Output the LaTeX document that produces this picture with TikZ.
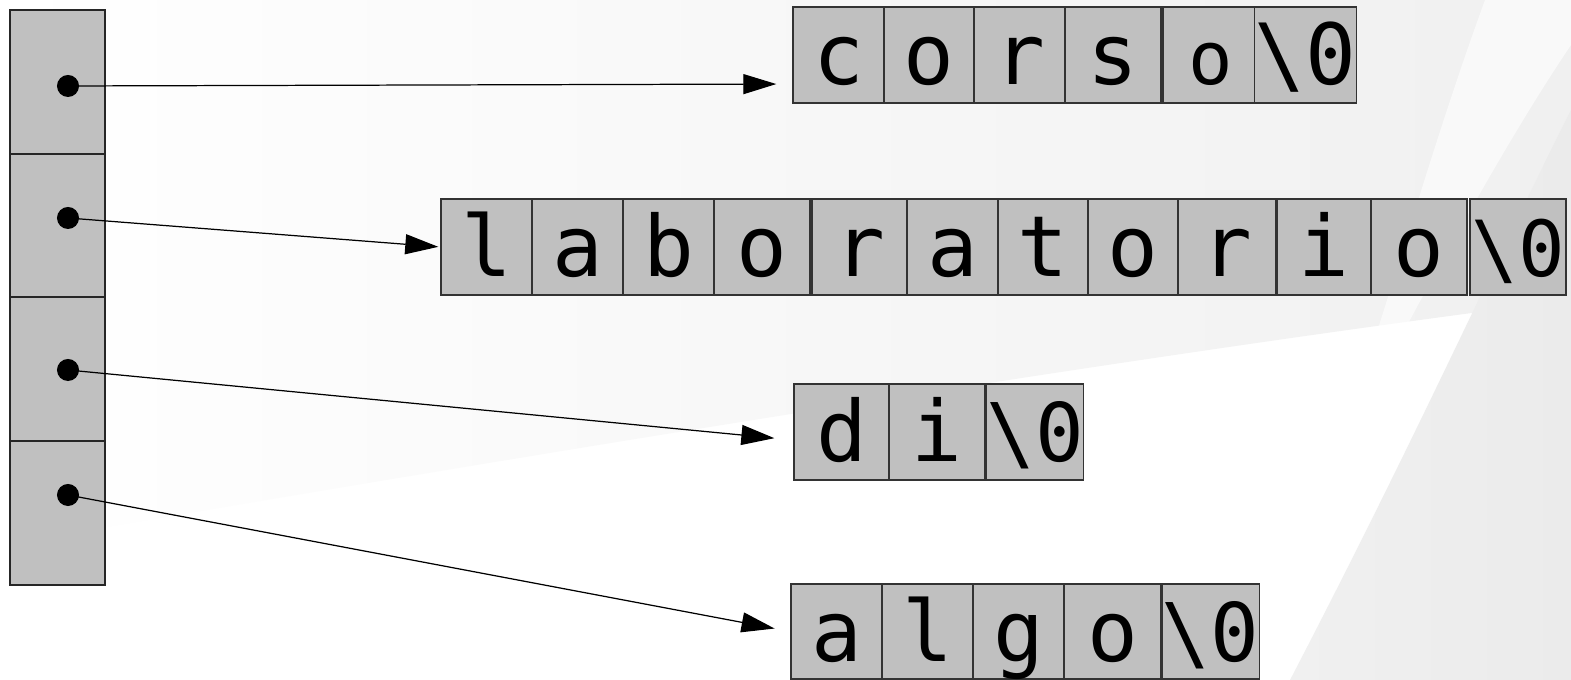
\documentclass[tikz,border=0pt]{standalone}
\usepackage{fontspec}
\setmonofont{DejaVu Sans Mono}
\usetikzlibrary{arrows.meta}

\definecolor{cellgray}{HTML}{C0C0C0}
\definecolor{bggray}{HTML}{F0F0F0}
\definecolor{bgdark}{HTML}{EBEBEB}

\tikzset{
    cell/.style={draw=black!80, line width=0.4pt, fill=cellgray, inner sep=0pt,
        text height=0.59cm, text depth=0pt},
    slot/.style={draw=black!85, line width=0.45pt, fill=cellgray, inner sep=0pt},
    dot/.style={circle, fill=black, inner sep=0pt, minimum size=0.22cm},
    ptr/.style={-{Triangle[length=0.33cm,width=0.2cm]}, line width=0.35pt},
}

\begin{document}
\begin{tikzpicture}[x=0.01cm,y=-0.01cm]
        \useasboundingbox (0,0) rectangle (1571,680);

        \fill[white] (0,0) rectangle (1571,680);
        \shade[left color=white, right color=bggray] (0,0) -- (1571,0) -- (1571,300) .. controls (1100,360) and (500,460) .. (0,545) -- cycle;
        \shade[left color=bggray, right color=bgdark] (1290,680) .. controls (1420,430) and (1500,250) .. (1571,110) -- (1571,680) -- cycle;
        \fill[white, opacity=0.6] (1571,0) -- (1485,0) .. controls (1430,150) and (1390,300) .. (1335,460) .. controls (1420,300) and (1500,150) .. (1571,45) -- cycle;

        \foreach \t/\b [count=\i] in {10/154,154/297,297/441,441/585}
            \node[slot, minimum width=0.95cm, minimum height={(\b-\t)*0.01cm}] (slot-\i) at (57.5,{(\t+\b)/2}) {};

        \foreach \y [count=\i] in {86,218,370,495}
            \node[dot] (p\i) at (68,\y) {};

        \foreach \l/\r/\c/\s [count=\i] in {793/884/c/24, 884/974/o/24, 974/1065/r/24, 1065/1161/s/24,
                1163/1258/o/21, 1258/1353/{\textbackslash0}/24}
            \node[cell, minimum width={(\r-\l)*0.01cm}, minimum height=0.96cm,
                font=\ttfamily\fontsize{\s}{\s}\selectfont] (corso-\i) at ({(\l+\r)/2},55) {\c};

        \foreach \l/\r/\c/\s [count=\i] in {441/532/l/24, 532/623/a/24, 623/714/b/24, 714/810/o/24,
                812/907/r/24, 907/998/a/24, 998/1088/t/24, 1088/1178/o/24, 1178/1276/r/24,
                1277/1371/i/24, 1371/1467/o/24, 1470/1566/{\textbackslash0}/22}
            \node[cell, minimum width={(\r-\l)*0.01cm}, minimum height=0.96cm,
                font=\ttfamily\fontsize{\s}{\s}\selectfont] (lab-\i) at ({(\l+\r)/2},247) {\c};

        \foreach \l/\r/\c/\s [count=\i] in {794/889/d/24, 889/985/i/24, 987/1083/{\textbackslash0}/23}
            \node[cell, minimum width={(\r-\l)*0.01cm}, minimum height=0.96cm,
                font=\ttfamily\fontsize{\s}{\s}\selectfont] (di-\i) at ({(\l+\r)/2},432) {\c};

        \foreach \l/\r/\c/\s [count=\i] in {791/882/a/24, 882/973/l/24, 973/1064/g/24, 1064/1161/o/24,
                1162/1259/{\textbackslash0}/23}
            \node[cell, minimum width={(\r-\l)*0.01cm}, minimum height=0.95cm,
                font=\ttfamily\fontsize{\s}{\s}\selectfont] (algo-\i) at ({(\l+\r)/2},631.5) {\c};

        \draw[ptr, shorten >=0.16cm] (p1.center) -- ([yshift=-0.29cm]corso-1.west);
        \draw[ptr, shorten >=0.02cm] (p2.center) -- (lab-1.west);
        \draw[ptr, shorten >=0.19cm] (p3.center) -- ([yshift=-0.08cm]di-1.west);
        \draw[ptr, shorten >=0.16cm] (p4.center) -- (algo-1.west);
    \end{tikzpicture}
\end{document}
